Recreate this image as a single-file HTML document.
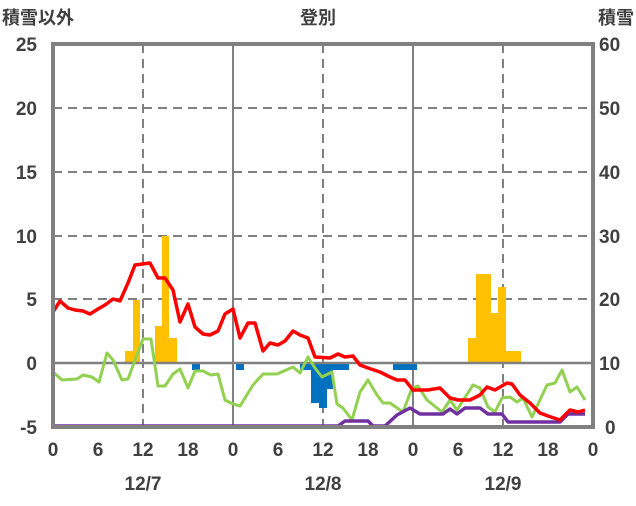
<!DOCTYPE html>
<html><head><meta charset="utf-8"><style>
html,body{margin:0;padding:0;background:#fff}
svg text{font-family:"Liberation Sans","Noto Sans CJK JP",sans-serif;fill:#404040;font-size:19px;font-weight:bold}
</style></head><body>
<svg width="636" height="501" viewBox="0 0 636 501" xmlns="http://www.w3.org/2000/svg">
<g stroke="#808080" stroke-width="2" stroke-dasharray="9,6" fill="none">
<line x1="53" y1="108" x2="593" y2="108"/>
<line x1="53" y1="172" x2="593" y2="172"/>
<line x1="53" y1="236" x2="593" y2="236"/>
<line x1="53" y1="299" x2="593" y2="299"/>
<line x1="143" y1="44" x2="143" y2="427"/>
<line x1="323" y1="44" x2="323" y2="427"/>
<line x1="503" y1="44" x2="503" y2="427"/>
</g>
<g stroke="#808080" stroke-width="2">
<line x1="233" y1="44" x2="233" y2="427"/>
<line x1="413" y1="44" x2="413" y2="427"/>
</g>
<g fill="#ffc000">
<rect x="125" y="351" width="8" height="12"/>
<rect x="133" y="300" width="7" height="63"/>
<rect x="155" y="326" width="7" height="37"/>
<rect x="162" y="236" width="7" height="127"/>
<rect x="169" y="338" width="8" height="25"/>
<rect x="468" y="338" width="8" height="25"/>
<rect x="476" y="274" width="15" height="89"/>
<rect x="491" y="313" width="7" height="50"/>
<rect x="498" y="287" width="8" height="76"/>
<rect x="506" y="351" width="15" height="12"/>
</g>
<g fill="#0070c0">
<rect x="192" y="363" width="8" height="7"/>
<rect x="236" y="363" width="8" height="7"/>
<rect x="300" y="363" width="12" height="7"/>
<rect x="311" y="363" width="8" height="40"/>
<rect x="319" y="363" width="8" height="45"/>
<rect x="327" y="363" width="6" height="26"/>
<rect x="333" y="363" width="16" height="7"/>
<rect x="393" y="363" width="24" height="7"/>
</g>
<line x1="53" y1="363" x2="593" y2="363" stroke="#808080" stroke-width="2.5"/>
<polyline fill="none" stroke="#92d050" stroke-width="3" stroke-linejoin="round" points="53,372 62,380 77,379 83,375 92,377 99,382 107,353 113,360 122,380 128,379 143,339 151,339 158,386 165,386 173,374 180,369 188,388 195,371 203,371 211,375 218,374 225,400 233,404 240,406 253,385 263,374 277,374 293,367 300,373 308,357 315,368 322,377 332,372 337,404 343,408 352,420 360,392 368,380 377,395 383,403 390,403 403,412 412,388 418,386 427,400 442,412 450,400 457,410 473,385 480,388 488,407 495,412 502,398 510,397 517,402 523,398 532,417 547,385 555,383 562,370 570,392 577,387 585,400"/>
<polyline fill="none" stroke="#7030a0" stroke-width="3.5" stroke-linejoin="round" points="53,426 338,426 345,421 368,421 373,426 385,426 397,415 410,408 420,414 443,414 450,409 457,414 465,408 480,408 488,414 502,414 508,422 560,422 568,414 585,414"/>
<polyline fill="none" stroke="#ff0000" stroke-width="3.5" stroke-linejoin="round" points="53,312 60,301 68,308 75,310 83,311 90,314 98,309 105,305 113,299 120,301 128,283 135,265 150,263 158,278 165,278 173,290 180,322 188,304 195,327 203,334 210,335 218,331 225,314 233,309 240,338 248,323 255,323 263,351 270,343 278,345 285,341 293,331 300,335 308,338 315,357 330,358 338,354 345,357 353,356 360,365 368,368 380,372 390,377 397,380 405,380 413,390 428,390 440,388 450,398 458,400 470,400 480,395 487,387 495,390 507,383 512,384 520,395 530,403 540,413 548,416 560,420 570,410 578,412 585,410"/>
<rect x="53" y="44" width="540" height="383" fill="none" stroke="#808080" stroke-width="4"/>
<text x="2" y="24" style="font-size:18px">積雪以外</text>
<text x="318" y="24" text-anchor="middle" style="font-size:18px">登別</text>
<text x="634" y="24" text-anchor="end" style="font-size:18px">積雪</text>
<g text-anchor="end">
<text x="37" y="51">25</text><text x="37" y="115">20</text><text x="37" y="179">15</text><text x="37" y="243">10</text><text x="37" y="306">5</text><text x="37" y="370">0</text><text x="37" y="434">-5</text>
</g>
<g text-anchor="start">
<text x="599" y="51">60</text><text x="599" y="115">50</text><text x="599" y="179">40</text><text x="599" y="243">30</text><text x="599" y="306">20</text><text x="599" y="370">10</text><text x="605" y="434">0</text>
</g>
<g text-anchor="middle">
<text x="53" y="456">0</text><text x="98" y="456">6</text><text x="143" y="456">12</text><text x="188" y="456">18</text>
<text x="233" y="456">0</text><text x="278" y="456">6</text><text x="323" y="456">12</text><text x="368" y="456">18</text>
<text x="413" y="456">0</text><text x="458" y="456">6</text><text x="503" y="456">12</text><text x="548" y="456">18</text><text x="593" y="456">0</text>
<text x="143" y="490">12/7</text><text x="323" y="490">12/8</text><text x="503" y="490">12/9</text>
</g>
</svg>
</body></html>
